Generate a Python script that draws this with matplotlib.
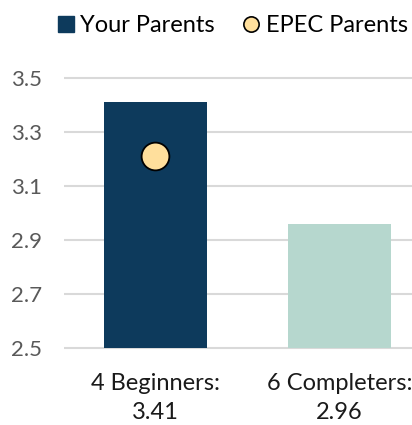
import matplotlib.pyplot as plt
from matplotlib.lines import Line2D

plt.rcParams['font.family'] = ['Lato', 'DejaVu Sans']

# 数据
categories = ['Beginners', 'Completers']
counts = [4, 6]
your_parents = [3.41, 2.96]
epec_parents = [3.21, None]
yticks = [2.5, 2.7, 2.9, 3.1, 3.3, 3.5]
base = 2.5

navy = '#0D3A5C'
mint = '#B6D7CE'
yellow = '#FFDF9C'

fig = plt.figure(figsize=(4.12, 4.25), dpi=100)
ax = fig.add_axes([0.155, 0.1748, 0.845, 0.648])

x = list(range(len(categories)))
ax.bar(x, [v - base for v in your_parents], width=0.56, bottom=base,
       color=[navy, mint], zorder=2)

# EPEC 平均值（圆点）
for xi, v in zip(x, epec_parents):
    if v is not None:
        ax.plot(xi, v, 'o', ms=20, mfc=yellow, mec='black', mew=1.3, zorder=3)

ax.set_ylim(2.49, 3.51)
ax.set_xlim(-0.497, 1.394)
ax.set_yticks(yticks)
ax.set_yticklabels([f'{t:.1f}' for t in yticks], color='#595959', fontsize=16)
ax.yaxis.grid(True, color='#D9D9D9', linewidth=1.5, zorder=0)
ax.set_axisbelow(True)
ax.tick_params(axis='y', length=0, pad=16)

ax.set_xticks(x)
ax.set_xticklabels([f'{n} {c}:\n{v:.2f}' for n, c, v in zip(counts, categories, your_parents)],
                   fontsize=17, linespacing=1.5, color='#1a1a1a')
ax.tick_params(axis='x', length=0, pad=16)

for s in ax.spines.values():
    s.set_visible(False)

handles = [
    Line2D([], [], marker='s', ls='', ms=11, mfc=navy, mec=navy, label='Your Parents'),
    Line2D([], [], marker='o', ls='', ms=11, mfc=yellow, mec='black', mew=1.2, label='EPEC Parents'),
]
fig.legend(handles=handles, loc='center', bbox_to_anchor=(0.562, 0.94), ncol=2,
           frameon=False, fontsize=17, handletextpad=0.15, columnspacing=1.1,
           handlelength=0.9)

fig.savefig('out.png', dpi=100)
